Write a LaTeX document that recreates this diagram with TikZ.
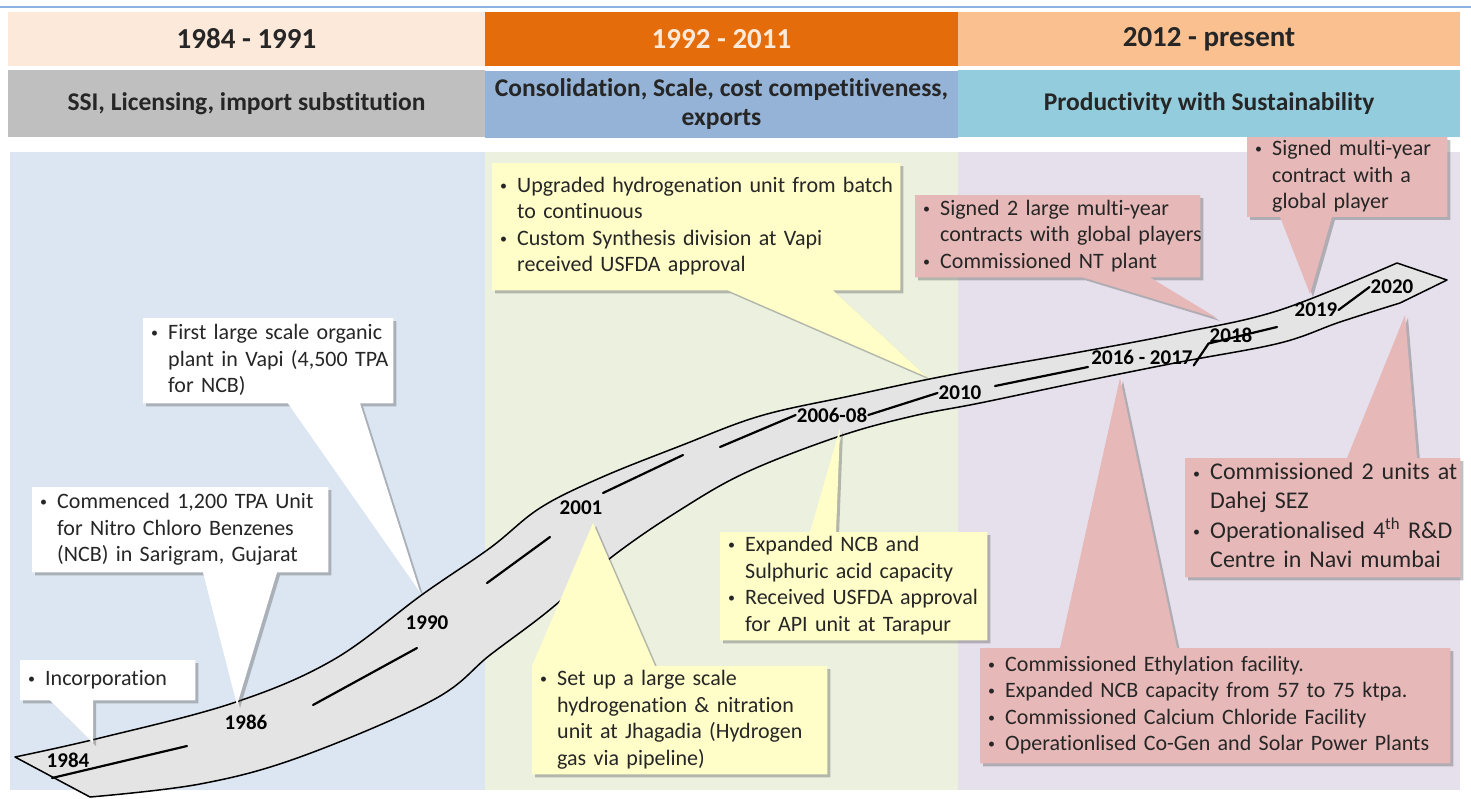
\documentclass[tikz,border=0pt]{standalone}
\usepackage{fontspec}
\setmainfont{Carlito}[Ligatures=NoCommon]
\usetikzlibrary{shadows}

\definecolor{hdrpeach}{HTML}{FDE9D9}
\definecolor{hdrorange}{HTML}{E46C0A}
\definecolor{hdrtan}{HTML}{FAC090}
\definecolor{subgrey}{HTML}{BFBFBF}
\definecolor{subblue}{HTML}{95B3D7}
\definecolor{subaqua}{HTML}{93CDDD}
\definecolor{bgblue}{HTML}{DCE6F2}
\definecolor{bggreen}{HTML}{EBF1DE}
\definecolor{bglilac}{HTML}{E6E0EC}
\definecolor{noteyellow}{HTML}{FFFDC8}
\definecolor{notepink}{HTML}{E6B9B8}
\definecolor{roadgrey}{HTML}{E4E4E4}
\definecolor{topline}{HTML}{8DB3E2}
\definecolor{inktext}{HTML}{262626}

\newcommand{\bul}{\makebox[17pt][l]{\raisebox{1.8pt}{\fontsize{14}{14}\selectfont\textbullet}}}
\newcommand{\notes}[1]{\begin{tabular}{@{}l@{}l@{}}#1\end{tabular}}

\pgfdeclarelayer{back}
\pgfdeclarelayer{mid}
\pgfsetlayers{back,mid,main}

\begin{document}
\begin{tikzpicture}[
    x=1pt, y=-1pt,
    era/.style={minimum height=54pt, inner sep=0pt, font=\fontsize{29}{34}\selectfont\bfseries, text=inktext},
    theme/.style={minimum height=67pt, inner sep=0pt, align=center, font=\fontsize{25.5}{29}\selectfont\bfseries, text=inktext},
    note/.style={anchor=north west, inner xsep=8pt, inner ysep=0pt, align=left, font=\fontsize{22}{26.5}\selectfont, text=inktext},
    callout/.style={drop shadow={shadow xshift=3pt, shadow yshift=-3pt, opacity=0.35, fill=black!70}},
    year/.style={font=\fontsize{21}{24}\selectfont\bfseries, inner sep=1pt},
    road/.style={draw=black, line width=1.5pt, fill=roadgrey, line join=round},
    lane/.style={line width=2.2pt, line cap=round}
]
\useasboundingbox (0,0) rectangle (1471,798);

% Period headers
\node[era, fill=hdrpeach, minimum width=477pt] (era1) at (246.5,39) {1984 - 1991};
\node[era, fill=hdrorange, text=hdrpeach, minimum width=473pt] (era2) at (721.5,39) {1992 - 2011};
\node[era, fill=hdrtan, minimum width=502pt] (era3) at (1209,39) {2012 - present};

\node[theme, fill=subgrey, minimum width=477pt] (theme1) at (246.5,103.5) {SSI, Licensing, import substitution};
\node[theme, fill=subblue, minimum width=473pt] (theme2) at (721.5,104.5) {Consolidation, Scale, cost competitiveness,\\exports};
\node[theme, fill=subaqua, minimum width=502pt] (theme3) at (1209,103.5) {Productivity with Sustainability};

% Column backgrounds and the road
\begin{pgfonlayer}{back}
\fill[white] (0,0) rectangle (1471,798);
\draw[topline, line width=2pt] (0,7) -- (1471,7);
\fill[bgblue] (10,152) rectangle (485,790);
\fill[bggreen] (485,152) rectangle (958,790);
\fill[bglilac] (958,152) rectangle (1460,790);

\draw[road] plot[smooth, tension=.6] coordinates {(15,757) (100,738) (233,703) (333,660) (423,594) (490,548) (540,508) (600,478) (680,446) (760,416) (850,396) (950,375) (1080,352) (1180,333) (1280,310) (1397,263)}
  -- (1447,280)
  -- plot[smooth, tension=.6] coordinates {(1400,303) (1340,322) (1280,343) (1180,362) (1080,382) (980,403) (913,416) (840,436) (747,472) (680,510) (613,556) (547,612) (490,655) (433,700) (300,757) (200,784) (90,797)}
  -- cycle;
\end{pgfonlayer}

% Year marks along the road
\node[year] (y1984) at (68,760) {1984};
\node[year] (y1986) at (246,722) {1986};
\node[year] (y1990) at (427,623) {1990};
\node[year] (y2001) at (581,508) {2001};
\node[year] (y0608) at (832,415) {2006-08};
\node[year] (y2010) at (960,393) {2010};
\node[year] (y1617) at (1142,357) {2016 - 2017};
\node[year] (y2018) at (1231,335) {2018};
\node[year] (y2019) at (1316,310) {2019};
\node[year] (y2020) at (1392,287) {2020};

\begin{pgfonlayer}{back}
\draw[lane] (52,778) -- (187,746);
\draw[lane] (313,705) -- (417,648);
\draw[lane] (487,583) -- (550,537);
\draw[lane] (603,493) -- (683,455);
\draw[lane] (720,447) -- (y0608.west);
\draw[lane] (y0608.east) -- (y2010.west);
\draw[lane] (995,386) -- (1088,367);
\draw[lane] (y1617.south east) -- (y2018.south west) -- (1277,327);
\draw[lane] (y2019.east) -- (y2020.west);
\end{pgfonlayer}

% Milestone notes
\node[note, text width=159pt, minimum height=40pt] (incorp) at (20,660) {\notes{\bul & Incorporation}};
\node[note, text width=280pt, minimum height=85pt] (sarigram) at (32,487) {\notes{\bul & Commenced 1,200 TPA Unit\\ & for Nitro Chloro Benzenes\\ & (NCB) in Sarigram, Gujarat}};
\node[note, text width=234pt, minimum height=85pt] (vapi) at (143,318) {\notes{\bul & First large scale organic\\ & plant in Vapi (4,500 TPA\\ & for NCB)}};
\node[note, text width=392pt, minimum height=127pt] (hydro) at (492,163) {\notes{\bul & Upgraded hydrogenation unit from batch\\ & to continuous\\ \bul & Custom Synthesis division at Vapi\\ & received USFDA approval}};
\node[note, text width=279pt, minimum height=108pt] (jhagadia) at (532,666) {\notes{\bul & Set up a large scale\\ & hydrogenation \& nitration\\ & unit at Jhagadia (Hydrogen\\ & gas via pipeline)}};
\node[note, text width=251pt, minimum height=108pt] (tarapur) at (720,532) {\notes{\bul & Expanded NCB and\\ & Sulphuric acid capacity\\ \bul & Received USFDA approval\\ & for API unit at Tarapur}};
\node[note, text width=269pt, minimum height=82pt] (contracts) at (915,195) {\notes{\bul & Signed 2 large multi-year\\ & contracts with global players\\ \bul & Commissioned NT plant}};
\node[note, text width=184pt, minimum height=77pt] (global) at (1247,137) {\notes{\bul & Signed multi-year\\ & contract with a\\ & global player}};
\node[note, font=\fontsize{24}{29}\selectfont, text width=259pt, minimum height=119pt] (dahej) at (1185,458) {\notes{\bul & Commissioned 2 units at\\ & Dahej SEZ\\ \bul & Operationalised 4\textsuperscript{th} R\&D\\ & Centre in Navi mumbai}};
\node[note, text width=454pt, minimum height=115pt] (ethyl) at (980,648) {\notes{\bul & Commissioned Ethylation facility.\\ \bul & Expanded NCB capacity from 57 to 75 ktpa.\\ \bul & Commissioned Calcium Chloride Facility\\ \bul & Operationlised Co-Gen and Solar Power Plants}};

% Callout boxes with their pointers
\begin{pgfonlayer}{mid}
\fill[callout, white] (incorp.north west) -- (incorp.north east) -- (incorp.south east) -- (incorp.south -| 93,0) -- (93,743) -- (incorp.south -| 50,0) -- (incorp.south west) -- cycle;
\fill[callout, white] (sarigram.north west) -- (sarigram.north east) -- (sarigram.south east) -- (sarigram.south -| 277,0) -- (237,705) -- (sarigram.south -| 203,0) -- (sarigram.south west) -- cycle;
\fill[callout, white] (vapi.north west) -- (vapi.north east) -- (vapi.south east) -- (vapi.south -| 360,0) -- (420,592) -- (vapi.south -| 288,0) -- (vapi.south west) -- cycle;
\fill[callout, noteyellow] (hydro.north west) -- (hydro.north east) -- (hydro.south east) -- (hydro.south -| 833,0) -- (927,377) -- (hydro.south -| 728,0) -- (hydro.south west) -- cycle;
\fill[callout, noteyellow] (jhagadia.north west) -- (593,523) -- (jhagadia.north -| 655,0) -- (jhagadia.north east) -- (jhagadia.south east) -- (jhagadia.south west) -- cycle;
\fill[callout, noteyellow] (tarapur.north west) -- (tarapur.north -| 810,0) -- (840,428) -- (tarapur.north -| 836,0) -- (tarapur.north east) -- (tarapur.south east) -- (tarapur.south west) -- cycle;
\fill[callout, notepink] (contracts.north west) -- (contracts.north east) -- (contracts.south east) -- (contracts.south -| 1150,0) -- (1217,318) -- (contracts.south -| 1083,0) -- (contracts.south west) -- cycle;
\fill[callout, notepink] (global.north west) -- (global.north east) -- (global.south east) -- (global.south -| 1332,0) -- (1310,294) -- (global.south -| 1280,0) -- (global.south west) -- cycle;
\fill[callout, notepink] (dahej.north west) -- (dahej.north -| 1347,0) -- (1405,315) -- (dahej.north -| 1417,0) -- (dahej.north east) -- (dahej.south east) -- (dahej.south west) -- cycle;
\fill[callout, notepink] (ethyl.north west) -- (ethyl.north -| 1060,0) -- (1120,378) -- (ethyl.north -| 1177,0) -- (ethyl.north east) -- (ethyl.south east) -- (ethyl.south west) -- cycle;
\end{pgfonlayer}

\end{tikzpicture}
\end{document}
